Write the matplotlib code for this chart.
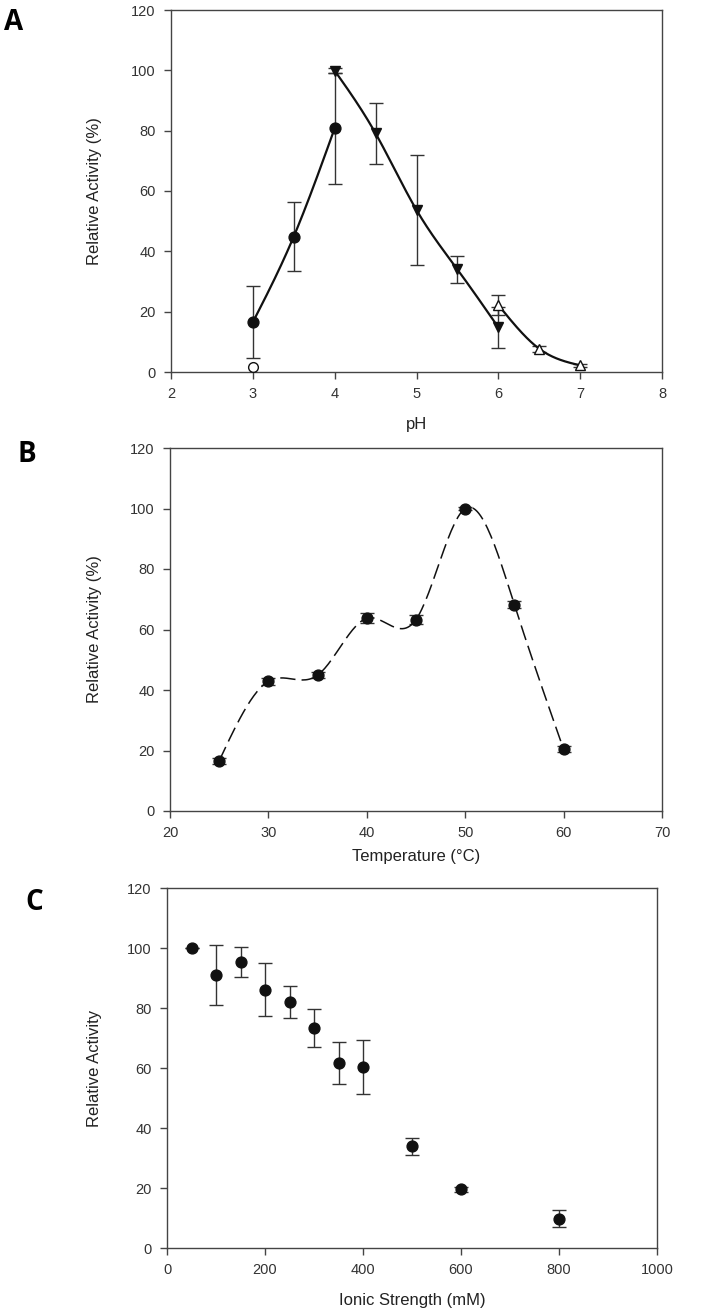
import numpy as np
import matplotlib
matplotlib.use("Agg")
import matplotlib.pyplot as plt

plt.rcParams['font.family'] = ['Liberation Sans', 'DejaVu Sans']

# --- panel A: pH ---
ph_circ = [3.0, 3.5, 4.0]
act_circ = [16.5, 44.9, 80.8]
err_circ = [11.9, 11.3, 18.4]

ph_open_circ = [3.0]
act_open_circ = [1.8]

ph_tri = [4.0, 4.5, 5.0, 5.5, 6.0]
act_tri = [99.9, 79.1, 53.7, 34.0, 14.8]
err_tri = [0.8, 10.1, 18.1, 4.4, 6.7]

ph_open_tri = [6.0, 6.5, 7.0]
act_open_tri = [22.2, 7.7, 2.2]
err_open_tri = [3.3, 1.0, 0.5]

# --- panel B: temperature ---
temp = [25, 30, 35, 40, 45, 50, 55, 60]
act_temp = [16.6, 42.9, 44.9, 63.7, 63.3, 100.0, 68.2, 20.4]
err_temp = [1.0, 1.2, 1.0, 1.6, 1.4, 0.5, 1.2, 1.0]

# --- panel C: ionic strength ---
ionic = [50, 100, 150, 200, 250, 300, 350, 400, 500, 600, 800]
act_ionic = [100.0, 90.9, 95.4, 86.1, 82.1, 73.3, 61.7, 60.2, 33.9, 19.6, 9.8]
err_ionic = [0.0, 10.0, 5.0, 8.8, 5.4, 6.3, 7.1, 9.0, 2.9, 0.8, 2.8]


def natural_spline(x, y, n=200):
    x = np.asarray(x, float)
    y = np.asarray(y, float)
    k = len(x)
    h = np.diff(x)
    A = np.zeros((k, k))
    b = np.zeros(k)
    A[0, 0] = A[-1, -1] = 1
    for i in range(1, k - 1):
        A[i, i - 1] = h[i - 1]
        A[i, i] = 2 * (h[i - 1] + h[i])
        A[i, i + 1] = h[i]
        b[i] = 3 * ((y[i + 1] - y[i]) / h[i] - (y[i] - y[i - 1]) / h[i - 1])
    c = np.linalg.solve(A, b)
    xs = np.linspace(x[0], x[-1], n)
    idx = np.clip(np.searchsorted(x, xs) - 1, 0, k - 2)
    dx = xs - x[idx]
    bb = (y[idx + 1] - y[idx]) / h[idx] - h[idx] * (2 * c[idx] + c[idx + 1]) / 3
    dd = (c[idx + 1] - c[idx]) / (3 * h[idx])
    ys = y[idx] + bb * dx + c[idx] * dx ** 2 + dd * dx ** 3
    return xs, ys


W, H = 704, 1313
fig = plt.figure(figsize=(W / 100, H / 100), dpi=100)

TICK_FS = 10.5
LABEL_FS = 12


def make_ax(left, right, top, bottom):
    ax = fig.add_axes([left / W, (H - bottom) / H, (right - left) / W, (bottom - top) / H])
    for s in ax.spines.values():
        s.set_color('#444444')
        s.set_linewidth(1.0)
    ax.tick_params(direction='out', length=5, width=1, color='#444444',
                   labelsize=TICK_FS, labelcolor='#333333', pad=6,
                   top=False, right=False)
    return ax


ekw = dict(ecolor='#333333', elinewidth=1, capsize=5, capthick=1, linestyle='none', zorder=2)

# Panel A
axA = make_ax(171, 662, 10, 372)
for xs_, ys_ in [(ph_circ, act_circ), (ph_tri, act_tri), (ph_open_tri, act_open_tri)]:
    sx, sy = natural_spline(xs_, ys_)
    axA.plot(sx, sy, color='#111111', lw=1.6, zorder=3)
axA.errorbar(ph_circ, act_circ, yerr=err_circ, **ekw)
axA.errorbar(ph_tri, act_tri, yerr=err_tri, **ekw)
axA.errorbar(ph_open_tri, act_open_tri, yerr=err_open_tri, **ekw)
axA.plot(ph_circ, act_circ, 'o', color='#111111', ms=7.8, zorder=4)
axA.plot(ph_open_circ, act_open_circ, 'o', mfc='white', mec='#111111', mew=1, ms=7, zorder=4)
axA.plot(ph_tri, act_tri, 'v', color='#111111', ms=7.8, zorder=4)
axA.plot(ph_open_tri, act_open_tri, '^', mfc='white', mec='#111111', mew=1, ms=7.8, zorder=4)
axA.set_xlim(2, 8)
axA.set_ylim(0, 120)
axA.set_xticks([2, 3, 4, 5, 6, 7, 8])
axA.set_yticks(range(0, 121, 20))
axA.set_xlabel('pH', fontsize=LABEL_FS, color='#222222')
axA.set_ylabel('Relative Activity (%)', fontsize=LABEL_FS, color='#222222')
axA.xaxis.set_label_coords(0.5, (372 - 424) / 362)
axA.yaxis.set_label_coords((95 - 171) / 491, 0.5)

# Panel B
axB = make_ax(170, 662, 448, 811)
sx, sy = natural_spline(temp, act_temp)
axB.plot(sx, sy, color='#111111', lw=1.1, dashes=(10, 4), zorder=3)
axB.errorbar(temp, act_temp, yerr=err_temp, **ekw)
axB.plot(temp, act_temp, 'o', color='#111111', ms=7.8, zorder=4)
axB.set_xlim(20, 70)
axB.set_ylim(0, 120)
axB.set_xticks(range(20, 71, 10))
axB.set_yticks(range(0, 121, 20))
axB.set_xlabel('Temperature (°C)', fontsize=LABEL_FS, color='#222222')
axB.set_ylabel('Relative Activity (%)', fontsize=LABEL_FS, color='#222222')
axB.xaxis.set_label_coords(0.5, (811 - 857) / 363)
axB.yaxis.set_label_coords((95 - 170) / 492, 0.5)

# Panel C
axC = make_ax(167, 657, 888, 1248)
axC.errorbar(ionic, act_ionic, yerr=err_ionic, **ekw)
axC.plot(ionic, act_ionic, 'o', color='#111111', ms=7.8, zorder=4)
axC.set_xlim(0, 1000)
axC.set_ylim(0, 120)
axC.set_xticks(range(0, 1001, 200))
axC.set_yticks(range(0, 121, 20))
axC.set_xlabel('Ionic Strength (mM)', fontsize=LABEL_FS, color='#222222')
axC.set_ylabel('Relative Activity', fontsize=LABEL_FS, color='#222222')
axC.xaxis.set_label_coords(0.5, (1248 - 1300) / 360)
axC.yaxis.set_label_coords((95 - 167) / 490, 0.5)

for ax in (axA, axB, axC):
    ax.xaxis.label.set_va('center')
    ax.yaxis.label.set_va('center')

# panel letters
for letter, x, y in [('A', 4, 22), ('B', 17, 455), ('C', 25, 902)]:
    fig.text(x / W, 1 - y / H, letter, fontsize=20, fontweight='bold',
             family=['Open Sans', 'DejaVu Sans'], ha='left', va='center')

fig.savefig('out.png', dpi=100)
